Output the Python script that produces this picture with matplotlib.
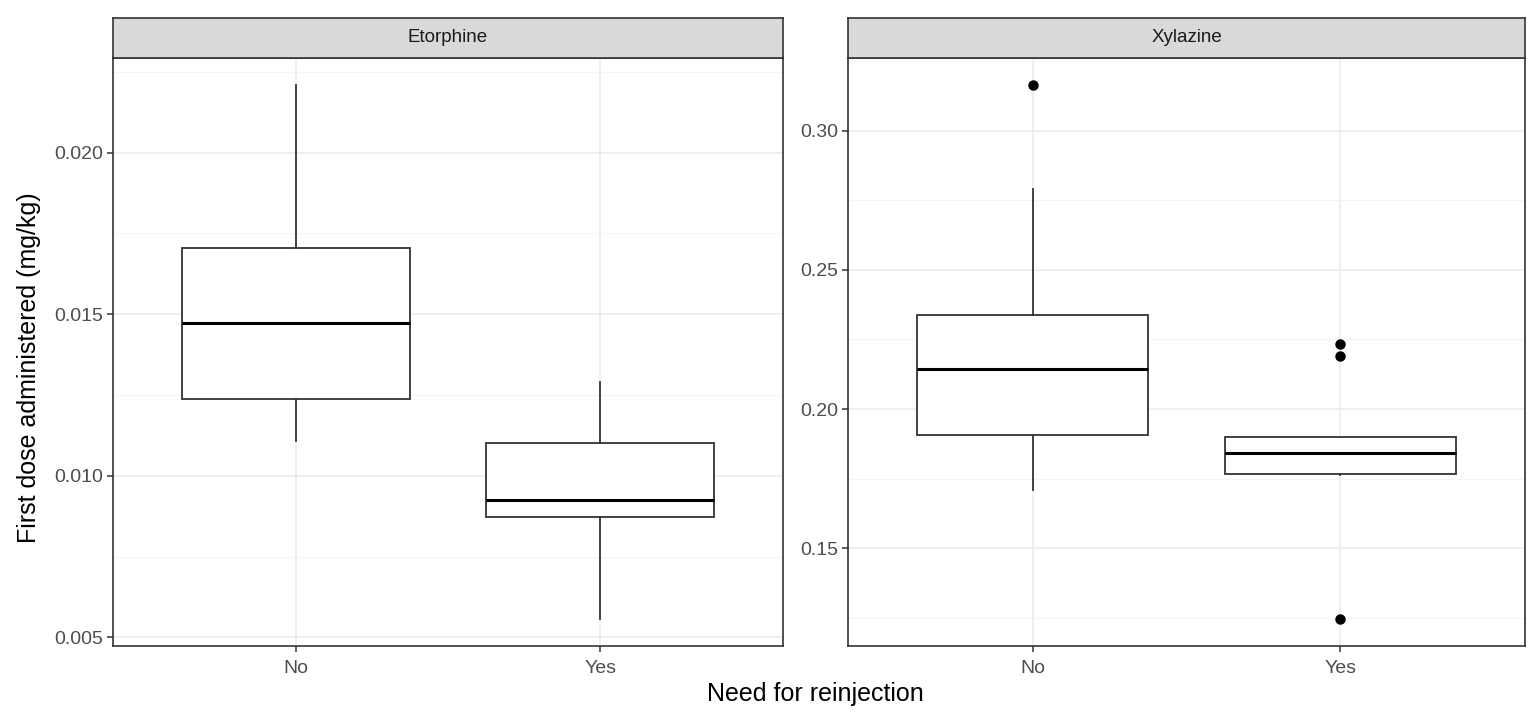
import matplotlib
matplotlib.use("Agg")
import matplotlib.pyplot as plt
from matplotlib.ticker import MultipleLocator

plt.rcParams['font.family'] = ['Liberation Sans', 'DejaVu Sans']

categories = ["No", "Yes"]
panels = ["Etorphine", "Xylazine"]

# Etorphine stats (No, Yes)
eto_whislo = [0.01109, 0.00556]
eto_q1 = [0.01239, 0.00873]
eto_med = [0.01472, 0.00925]
eto_q3 = [0.01705, 0.01100]
eto_whishi = [0.02210, 0.01289]
eto_fliers = [[], []]

# Xylazine stats (No, Yes)
xyl_whislo = [0.1709, 0.1762]
xyl_q1 = [0.1907, 0.1767]
xyl_med = [0.2144, 0.1842]
xyl_q3 = [0.2338, 0.1900]
xyl_whishi = [0.2792, 0.1900]
xyl_fliers = [[0.3165], [0.2234, 0.2191, 0.1245]]

eto_ticks = [0.005, 0.010, 0.015, 0.020]
eto_ticklabels = ["0.005", "0.010", "0.015", "0.020"]
xyl_ticks = [0.15, 0.20, 0.25, 0.30]
xyl_ticklabels = ["0.15", "0.20", "0.25", "0.30"]

W, H = 1536, 718
fig = plt.figure(figsize=(W / 100, H / 100), dpi=100)

def px_axes(x0, y0, x1, y1):
    return fig.add_axes([x0 / W, (H - y1) / H, (x1 - x0) / W, (y1 - y0) / H])

def make_stats(wlo, q1, med, q3, whi, fl):
    return [dict(whislo=wlo[i], q1=q1[i], med=med[i], q3=q3[i], whishi=whi[i],
                 fliers=fl[i], label=categories[i]) for i in range(len(categories))]

specs = [
    (113, 783, make_stats(eto_whislo, eto_q1, eto_med, eto_q3, eto_whishi, eto_fliers),
     eto_ticks, eto_ticklabels, 0.0025),
    (848, 1525, make_stats(xyl_whislo, xyl_q1, xyl_med, xyl_q3, xyl_whishi, xyl_fliers),
     xyl_ticks, xyl_ticklabels, 0.025),
]

for (x0, x1, stats, ticks, tlabels, minor), name in zip(specs, panels):
    ax = px_axes(x0, 58, x1, 646)
    ax.set_facecolor("white")
    ax.bxp(stats, positions=[1, 2], widths=0.75, showcaps=False, patch_artist=True,
           boxprops=dict(facecolor="white", edgecolor="#333333", linewidth=1.3),
           whiskerprops=dict(color="#333333", linewidth=1.3),
           medianprops=dict(color="black", linewidth=2.2),
           flierprops=dict(marker="o", markerfacecolor="black", markeredgecolor="black",
                           markersize=6.5, linestyle="none"),
           zorder=3)
    ax.set_xlim(0.4, 2.6)
    allv = []
    for s in stats:
        allv += [s["whislo"], s["whishi"]] + list(s["fliers"])
    lo, hi = min(allv), max(allv)
    pad = (hi - lo) * 0.05
    ax.set_ylim(lo - pad, hi + pad)
    ax.set_yticks(ticks)
    ax.set_yticklabels(tlabels)
    ax.yaxis.set_minor_locator(MultipleLocator(minor))
    ax.set_xticks([1, 2])
    ax.set_xticklabels(categories)
    ax.grid(which="major", color="#EBEBEB", linewidth=1.1, zorder=0)
    ax.grid(which="minor", axis="y", color="#F4F4F4", linewidth=0.8, zorder=0)
    ax.set_axisbelow(True)
    for sp in ax.spines.values():
        sp.set_color("#333333")
        sp.set_linewidth(1.2)
    ax.tick_params(axis="y", which="major", length=4, width=1.1, color="#333333",
                   labelcolor="#4D4D4D", labelsize=14, pad=3)
    ax.tick_params(axis="x", which="major", length=4, width=1.1, color="#333333",
                   labelcolor="#4D4D4D", labelsize=14, pad=6)
    ax.tick_params(axis="both", which="minor", length=0)
    # strip
    sax = px_axes(x0, 18, x1, 58)
    sax.set_facecolor("#D9D9D9")
    sax.set_xticks([]); sax.set_yticks([])
    for sp in sax.spines.values():
        sp.set_color("#333333")
        sp.set_linewidth(1.2)
    sax.text(0.5, 0.5, name, ha="center", va="center", fontsize=13.5, color="#1A1A1A",
             transform=sax.transAxes)

fig.text(29 / W, 1 - 368 / H, "First dose administered (mg/kg)", rotation=90,
         ha="center", va="center", fontsize=18, color="black")
fig.text(815 / W, 1 - 694 / H, "Need for reinjection", ha="center", va="center",
         fontsize=18, color="black")

fig.savefig("out.png", dpi=100, facecolor="white")
